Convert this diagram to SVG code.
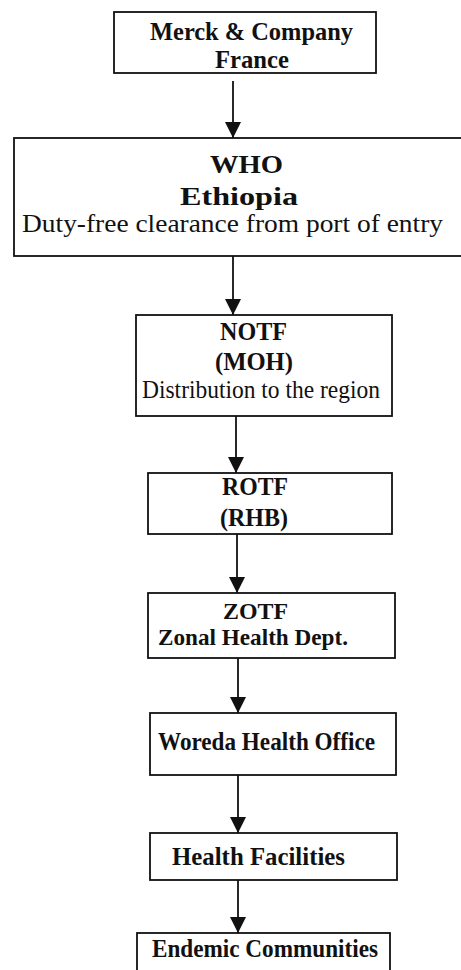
<svg xmlns="http://www.w3.org/2000/svg" width="461" height="970" viewBox="0 0 461 970">
<style>
.box{fill:#fff;stroke:#111;stroke-width:1.8}
.b{font-family:"Liberation Serif","Times New Roman",serif;font-weight:bold;font-size:26px;fill:#111}
.r{font-family:"Liberation Serif","Times New Roman",serif;font-size:26px;fill:#111}
.s{font-size:23px}
.edge{stroke:#111;stroke-width:1.8;fill:none;marker-end:url(#ah)}
</style>
<defs>
<marker id="ah" markerUnits="userSpaceOnUse" markerWidth="18" markerHeight="18" refX="16" refY="8" orient="auto">
<path d="M0,0 L16,8 L0,16 Z" fill="#111"/>
</marker>
</defs>
<rect width="461" height="970" fill="#fff"/>
<g id="n1"><rect class="box" x="114" y="12" width="262" height="61"/>
<text class="b" x="150" y="40" textLength="203" lengthAdjust="spacingAndGlyphs">Merck &amp; Company</text>
<text class="b" x="215" y="68" textLength="74" lengthAdjust="spacingAndGlyphs">France</text></g>
<g id="n2"><rect class="box" x="14" y="138" width="460" height="118"/>
<text class="b" x="210" y="173" textLength="73" lengthAdjust="spacingAndGlyphs">WHO</text>
<text class="b" x="180" y="205" textLength="118" lengthAdjust="spacingAndGlyphs">Ethiopia</text>
<text class="r" x="22" y="232" textLength="421" lengthAdjust="spacingAndGlyphs">Duty-free clearance from port of entry</text></g>
<g id="n3"><rect class="box" x="136" y="315" width="256" height="101"/>
<text class="b" x="220" y="340" textLength="67" lengthAdjust="spacingAndGlyphs">NOTF</text>
<text class="b" x="215" y="370" textLength="78" lengthAdjust="spacingAndGlyphs">(MOH)</text>
<text class="r" x="142" y="398" textLength="238" lengthAdjust="spacingAndGlyphs">Distribution to the region</text></g>
<g id="n4"><rect class="box" x="148" y="473" width="244" height="61"/>
<text class="b" x="222" y="495" textLength="66" lengthAdjust="spacingAndGlyphs">ROTF</text>
<text class="b" x="220" y="526" textLength="68" lengthAdjust="spacingAndGlyphs">(RHB)</text></g>
<g id="n5"><rect class="box" x="148" y="593" width="247" height="65"/>
<text class="b s" x="223" y="619" textLength="65" lengthAdjust="spacingAndGlyphs">ZOTF</text>
<text class="b s" x="158" y="645" textLength="190" lengthAdjust="spacingAndGlyphs">Zonal Health Dept.</text></g>
<g id="n6"><rect class="box" x="150" y="713" width="246" height="62"/>
<text class="b" x="158" y="750" textLength="217" lengthAdjust="spacingAndGlyphs">Woreda Health Office</text></g>
<g id="n7"><rect class="box" x="150" y="833" width="247" height="47"/>
<text class="b" x="172" y="865" textLength="173" lengthAdjust="spacingAndGlyphs">Health Facilities</text></g>
<g id="n8"><rect class="box" x="137" y="933" width="253" height="45"/>
<text class="b" x="152" y="957" textLength="226" lengthAdjust="spacingAndGlyphs">Endemic Communities</text></g>
<g id="edges">
<line class="edge" x1="233" y1="81" x2="233" y2="138"/>
<line class="edge" x1="233" y1="256" x2="233" y2="315"/>
<line class="edge" x1="236" y1="416" x2="236" y2="473"/>
<line class="edge" x1="237" y1="534" x2="237" y2="593"/>
<line class="edge" x1="238" y1="658" x2="238" y2="713"/>
<line class="edge" x1="238" y1="775" x2="238" y2="833"/>
<line class="edge" x1="238" y1="880" x2="238" y2="933"/>
</g>
</svg>
